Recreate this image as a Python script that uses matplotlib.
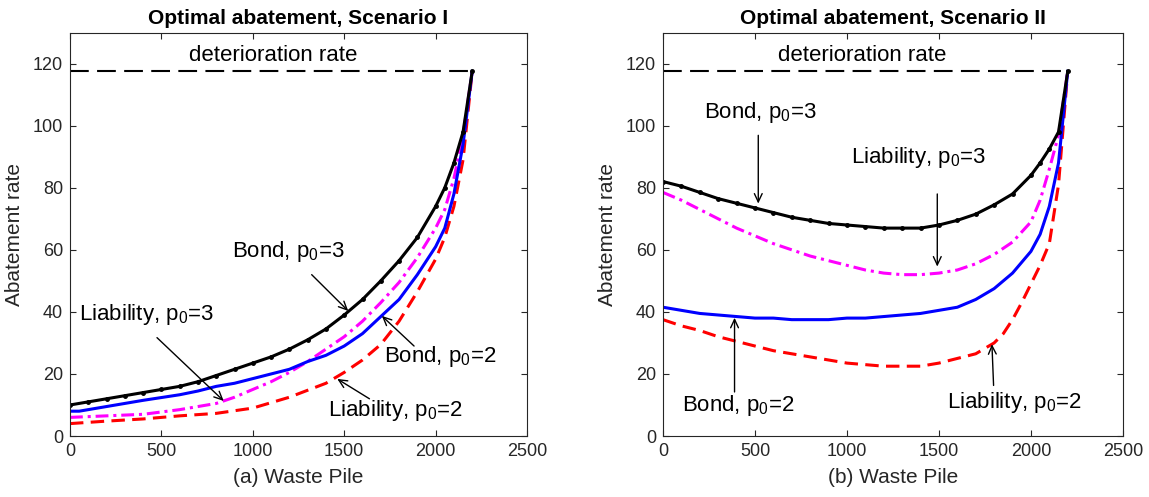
import numpy as np
import matplotlib
matplotlib.use('Agg')
import matplotlib.pyplot as plt

plt.rcParams['font.family'] = ['Liberation Sans', 'DejaVu Sans']
plt.rcParams['mathtext.fontset'] = 'custom'
plt.rcParams['mathtext.rm'] = 'Liberation Sans'

# deterioration rate level and end point of all curves
det_rate = 117.5
x_end = 2200

# Scenario I
s1_bond3_x = [0, 100, 200, 300, 400, 500, 600, 700, 800, 900, 1000, 1100, 1200, 1300, 1400,
              1500, 1600, 1700, 1800, 1900, 2000, 2050, 2100, 2150, 2200]
s1_bond3_y = [10, 11, 12, 13, 14, 15, 16, 17.5, 19.5, 21.5, 23.5, 25.5, 28, 31, 34.5,
              39, 44, 50, 56.5, 64, 74, 80, 88, 98, 117.5]
s1_bond2_x = [0, 50, 200, 400, 600, 700, 800, 900, 1000, 1100, 1200, 1300, 1400, 1500,
              1600, 1700, 1800, 1900, 2000, 2050, 2100, 2150, 2200]
s1_bond2_y = [8, 8, 9.5, 11.5, 13.3, 14.5, 16, 17, 18.5, 20, 21.5, 24, 26, 29,
              33, 38.5, 44, 52, 61, 67, 78, 94, 117.5]
s1_liab3_x = [0, 200, 400, 600, 800, 900, 1000, 1100, 1200, 1300, 1400, 1500, 1600, 1700,
              1800, 1900, 2000, 2050, 2100, 2150, 2200]
s1_liab3_y = [6, 6.5, 7, 8.5, 10.5, 12.5, 15, 17.5, 20.5, 24, 28, 32, 37, 43,
              49.5, 57.5, 67, 73, 83, 97, 117.5]
s1_liab2_x = [0, 200, 400, 600, 800, 1000, 1200, 1400, 1500, 1600, 1700, 1800, 1900, 2000,
              2050, 2100, 2150, 2200]
s1_liab2_y = [4, 4.8, 5.5, 6.5, 7.3, 9, 12.5, 17, 20.5, 24.5, 29.5, 37, 46.5, 57,
              64, 74, 89, 117.5]

# Scenario II
s2_bond3_x = [0, 100, 200, 300, 400, 500, 600, 700, 800, 900, 1000, 1100, 1200, 1300, 1400,
              1500, 1600, 1700, 1800, 1900, 2000, 2050, 2100, 2150, 2200]
s2_bond3_y = [82, 80.5, 78.5, 76.5, 75, 73.5, 72, 70.5, 69.5, 68.5, 68, 67.5, 67, 67, 67,
              68, 69.5, 71.5, 74.5, 78, 84, 88, 92.5, 98, 117.5]
s2_liab3_x = [0, 100, 200, 300, 400, 500, 600, 700, 800, 900, 1000, 1100, 1200, 1300, 1400,
              1500, 1600, 1700, 1800, 1900, 2000, 2050, 2100, 2150, 2200]
s2_liab3_y = [78.5, 76, 73, 70, 67, 64.5, 62, 60, 58, 56.5, 55, 53.5, 52.5, 52, 52,
              52.5, 53.5, 55.5, 58.5, 62.5, 69, 76, 86, 97, 117.5]
s2_bond2_x = [0, 100, 200, 300, 400, 500, 600, 700, 800, 900, 1000, 1100, 1200, 1300, 1400,
              1500, 1600, 1700, 1800, 1900, 1950, 2000, 2050, 2100, 2150, 2200]
s2_bond2_y = [41.5, 40.5, 39.5, 39, 38.5, 38, 38, 37.5, 37.5, 37.5, 38, 38, 38.5, 39, 39.5,
              40.5, 41.5, 44, 47.5, 52.5, 56, 59.5, 65, 74, 88, 117.5]
s2_liab2_x = [0, 100, 200, 300, 400, 500, 600, 700, 800, 900, 1000, 1100, 1200, 1300, 1400,
              1500, 1600, 1700, 1800, 1850, 1900, 1950, 2000, 2050, 2100, 2150, 2200]
s2_liab2_y = [37.5, 35.5, 34, 32, 30.5, 29, 27.5, 26.5, 25.5, 24.5, 23.5, 23, 22.5, 22.5, 22.5,
              23.5, 25, 26.5, 30, 33, 37.5, 43, 49, 55, 62, 81, 117.5]

# annotations: label, text (x, y), arrow tail, arrow head
ann1 = [
    (r'Bond, $\mathregular{p_0}$=3', (884, 59.4), (1322, 52), (1522, 40.3)),
    (r'Liability, $\mathregular{p_0}$=3', (51, 39.3), (476, 31.7), (841, 11.3)),
    (r'Bond, $\mathregular{p_0}$=2', (1716, 25.6), (1882, 29), (1706, 38.7)),
    (r'Liability, $\mathregular{p_0}$=2', (1414, 8.3), (1638, 12), (1462, 18.4)),
]
ann2 = [
    (r'Bond, $\mathregular{p_0}$=3', (224, 104.2), (518, 96.9), (518, 74.9)),
    (r'Liability, $\mathregular{p_0}$=3', (1020, 89.8), (1491, 78), (1491, 54.6)),
    (r'Bond, $\mathregular{p_0}$=2', (103, 9.9), (389, 14.2), (389, 38.1)),
    (r'Liability, $\mathregular{p_0}$=2', (1545, 10.9), (1797, 16.3), (1788, 29.6)),
]

gray = '#262626'
fig = plt.figure(figsize=(11.49, 4.97), dpi=100)
ax1 = fig.add_axes([0.0609, 0.1227, 0.3978, 0.8117])
ax2 = fig.add_axes([0.5770, 0.1227, 0.4003, 0.8117])


def draw(ax, bond3, bond2, liab3, liab2, anns, title, xlabel, det_x):
    ax.plot([0, x_end], [det_rate, det_rate], color='k', lw=1.5, dashes=(9, 4))
    ax.plot(liab2[0], liab2[1], color='#ff0000', lw=2.2, dashes=(4.4, 2.4))
    ax.plot(liab3[0], liab3[1], color='#ff00ff', lw=2.2, dashes=(4.2, 1.6, 1, 1.6))
    ax.plot(bond2[0], bond2[1], color='#0000ff', lw=2.2)
    ax.plot(bond3[0], bond3[1], color='k', lw=2.2, marker='.', ms=5)
    ax.text(det_x, 122.7, 'deterioration rate', fontsize=16, ha='center', va='center')
    for label, txy, tail, head in anns:
        ax.text(txy[0], txy[1], label, fontsize=16, ha='left', va='center')
        ax.annotate('', xy=head, xytext=tail,
                    arrowprops=dict(arrowstyle='->,head_length=0.6,head_width=0.28',
                                    color='k', lw=1.0, shrinkA=0, shrinkB=0))
    ax.set_xlim(0, 2500)
    ax.set_ylim(0, 130)
    ax.set_xticks(np.arange(0, 2501, 500))
    ax.set_yticks(np.arange(0, 121, 20))
    ax.tick_params(direction='in', top=True, right=True, labelsize=13,
                   colors=gray, length=4, width=0.8, pad=5)
    for s in ax.spines.values():
        s.set_color(gray)
        s.set_linewidth(0.8)
    ax.set_title(title, fontsize=15, fontweight='bold', pad=6)
    ax.set_xlabel(xlabel, fontsize=15, color=gray, labelpad=6)
    ax.set_ylabel('Abatement rate', fontsize=15, color=gray, labelpad=6)


draw(ax1, (s1_bond3_x, s1_bond3_y), (s1_bond2_x, s1_bond2_y),
     (s1_liab3_x, s1_liab3_y), (s1_liab2_x, s1_liab2_y), ann1,
     'Optimal abatement, Scenario I', '(a) Waste Pile', 1109)
draw(ax2, (s2_bond3_x, s2_bond3_y), (s2_bond2_x, s2_bond2_y),
     (s2_liab3_x, s2_liab3_y), (s2_liab2_x, s2_liab2_y), ann2,
     'Optimal abatement, Scenario II', '(b) Waste Pile', 1082)

fig.savefig('out.png', dpi=100)
